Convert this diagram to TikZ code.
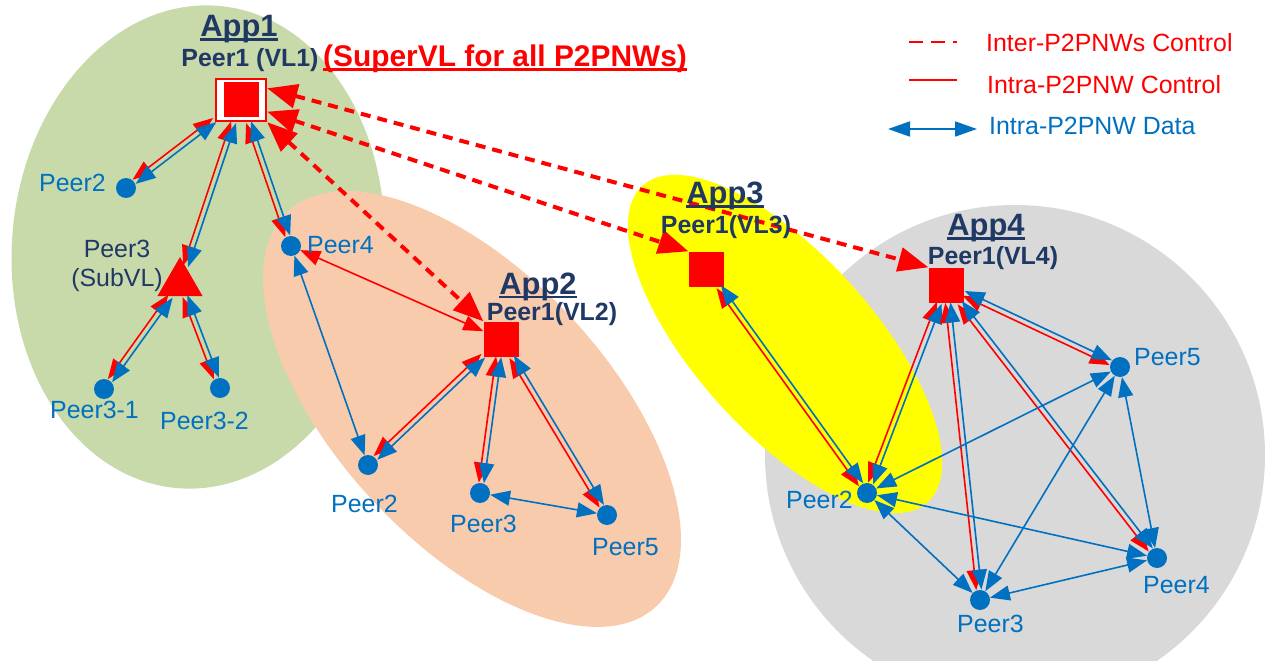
\documentclass[tikz,border=0pt]{standalone}
\usepackage{fontspec}
\setmainfont{Liberation Sans}
\usetikzlibrary{arrows.meta,calc,shapes.geometric}
\definecolor{cblue}{HTML}{0070C0}
\definecolor{cred}{HTML}{FF0000}
\definecolor{cnavy}{HTML}{1F3864}
\definecolor{cgreen}{HTML}{C9DAAA}
\definecolor{corange}{HTML}{F8CBAD}
\definecolor{cgray}{HTML}{D9D9D9}
\definecolor{cyellow}{HTML}{FFFF00}
\newcommand\ulin[1]{\setbox0\hbox{#1}\rlap{\vrule width\wd0 height -1.5bp depth 4.2bp}\box0}
\tikzset{
 dot/.style={circle,fill=cblue,minimum size=20bp,inner sep=0},
 vlsq/.style={rectangle,fill=cred,minimum size=35bp,inner sep=0},
 ctrl/.style={draw=cred,line width=1.6bp,{Triangle[length=20bp,width=15bp]}-{Triangle[length=20bp,width=15bp]}},
 data/.style={draw=cblue,line width=1.6bp,{Triangle[length=20bp,width=15bp]}-{Triangle[length=20bp,width=15bp]}},
 inter/.style={draw=cred,line width=4bp,dash pattern=on 10bp off 7bp,{Triangle[length=30bp,width=24bp]}-{Triangle[length=30bp,width=24bp]}},
 lbl/.style={text=cblue,font=\fontsize{25}{29}\selectfont,inner sep=0,anchor=base west},
 nlbl/.style={text=cnavy,font=\fontsize{25}{29}\selectfont,inner sep=0},
 blbl/.style={text=cnavy,font=\fontsize{25}{29}\selectfont\bfseries,inner sep=0,anchor=base},
 app/.style={text=cnavy,font=\fontsize{31}{34}\selectfont\bfseries,inner sep=0,anchor=base},
}
\newcommand\pairlink[2]{%
  \path let \p1=($(#2)-(#1)$) in \pgfextra{\pgfmathsetmacro\tmpang{atan2(\y1,\x1)}\xdef\pang{\tmpang}};
  \draw[ctrl,transform canvas={shift={(\pang-90:2.6bp)}}] (#1) -- (#2);
  \draw[data,transform canvas={shift={(\pang+90:2.6bp)}}] (#1) -- (#2);
}
\begin{document}
\begin{tikzpicture}[x=1bp,y=-1bp]
\useasboundingbox (0,0) rectangle (1265,661);
\begin{scope}
\clip (0,0) rectangle (1265,661);
\fill[cgreen,rotate around={-5:(198,247)}] (198,247) ellipse [x radius=186, y radius=242];
\fill[corange,rotate around={-47:(472,409)}] (472,409) ellipse [x radius=270, y radius=135];
\fill[cgray] (1015,455) ellipse [x radius=250, y radius=250];
\fill[cyellow,rotate around={-48:(785,344)}] (785,344) ellipse [x radius=213, y radius=89];
\end{scope}
% nodes
\node[draw=cred,line width=2.5bp,fill=white,minimum width=50bp,minimum height=42bp,inner sep=0] (v1) at (241,100) {};
\node[vlsq] (v1c) at (241,100) {};
\node[dot] (p12) at (126,188) {};
\node[regular polygon,regular polygon sides=3,fill=cred,minimum size=52bp,inner sep=0] (p13) at (180,283) {};
\node[dot] (p131) at (104,389) {};
\node[dot] (p132) at (220,388) {};
\node[dot] (p4) at (291,246) {};
\node[vlsq] (v2) at (501,339) {};
\node[dot] (p22) at (368,465) {};
\node[dot] (p23) at (480,493) {};
\node[dot] (p25) at (607,515) {};
\node[vlsq] (v3) at (706,269) {};
\node[vlsq] (v4) at (946,285) {};
\node[dot] (p42) at (867,493) {};
\node[dot] (p45) at (1120,367) {};
\node[dot] (p44) at (1157,558) {};
\node[dot] (p43) at (980,600) {};
% links
\pairlink{v1}{p12}
\pairlink{v1}{p13}
\pairlink{v1}{p4}
\pairlink{p13}{p131}
\pairlink{p13}{p132}
\pairlink{v2}{p22}
\pairlink{v2}{p23}
\pairlink{v2}{p25}
\pairlink{v3}{p42}
\pairlink{v4}{p42}
\pairlink{v4}{p43}
\pairlink{v4}{p44}
\pairlink{v4}{p45}
\draw[ctrl] (p4) -- (v2);
\draw[data] (p4) -- (p22);
\draw[data] (p23) -- (p25);
\draw[data] (p42) -- (p45);
\draw[data] (p42) -- (p44);
\draw[data] (p42) -- (p43);
\draw[data] (p43) -- (p45);
\draw[data] (p43) -- (p44);
\draw[data] (p44) -- (p45);
\draw[inter] (v1.24) -- (v4.north west);
\draw[inter] (v1.-24) -- (v3.north west);
\draw[inter] (v1.south east) -- (v2.north west);
% labels
\node[app] (a1) at (239,37) {\ulin{App1}};
\node[blbl] (a1p) at (250,67) {Peer1 (VL1)};
\node[text=cred,font=\fontsize{30}{34}\selectfont\bfseries,inner sep=0,anchor=base west] (sup) at (323,67) {\ulin{(SuperVL for all P2PNWs)}};
\node[lbl] (t12) at (39,192) {Peer2};
\node[nlbl,align=center] (t13) at (117,266) {Peer3\\(SubVL)};
\node[lbl] (t131) at (50,418) {Peer3-1};
\node[lbl] (t132) at (160,429) {Peer3-2};
\node[lbl] (t4) at (307,253) {Peer4};
\node[app] (a2) at (538,294) {\ulin{App2}};
\node[blbl] (a2p) at (552,320) {Peer1(VL2)};
\node[lbl] (t22) at (331,512) {Peer2};
\node[lbl] (t23) at (450,532) {Peer3};
\node[lbl] (t25) at (592,555) {Peer5};
\node[app] (a3) at (725,204) {\ulin{App3}};
\node[blbl] (a3p) at (726,234) {Peer1(VL3)};
\node[app] (a4) at (986,236) {\ulin{App4}};
\node[blbl] (a4p) at (993,264) {Peer1(VL4)};
\node[lbl] (t42) at (786,508) {Peer2};
\node[lbl] (t45) at (1134,365) {Peer5};
\node[lbl] (t44) at (1143,593) {Peer4};
\node[lbl] (t43) at (957,632) {Peer3};
% legend
\coordinate (l1a) at (909,42); \coordinate (l1b) at (957,42);
\coordinate (l2a) at (909,80); \coordinate (l2b) at (957,80);
\coordinate (l3a) at (888,129); \coordinate (l3b) at (977,129);
\draw[cred,line width=2bp,dash pattern=on 14bp off 8bp] (l1a) -- (l1b);
\draw[cred,line width=2bp] (l2a) -- (l2b);
\draw[draw=cblue,line width=1.8bp,{Triangle[length=22bp,width=15bp]}-{Triangle[length=22bp,width=15bp]}] (l3a) -- (l3b);
\node[lbl,text=cred] (lg1) at (986,52) {Inter-P2PNWs Control};
\node[lbl,text=cred] (lg2) at (987,94) {Intra-P2PNW Control};
\node[lbl] (lg3) at (989,135) {Intra-P2PNW Data};
\end{tikzpicture}
\end{document}
